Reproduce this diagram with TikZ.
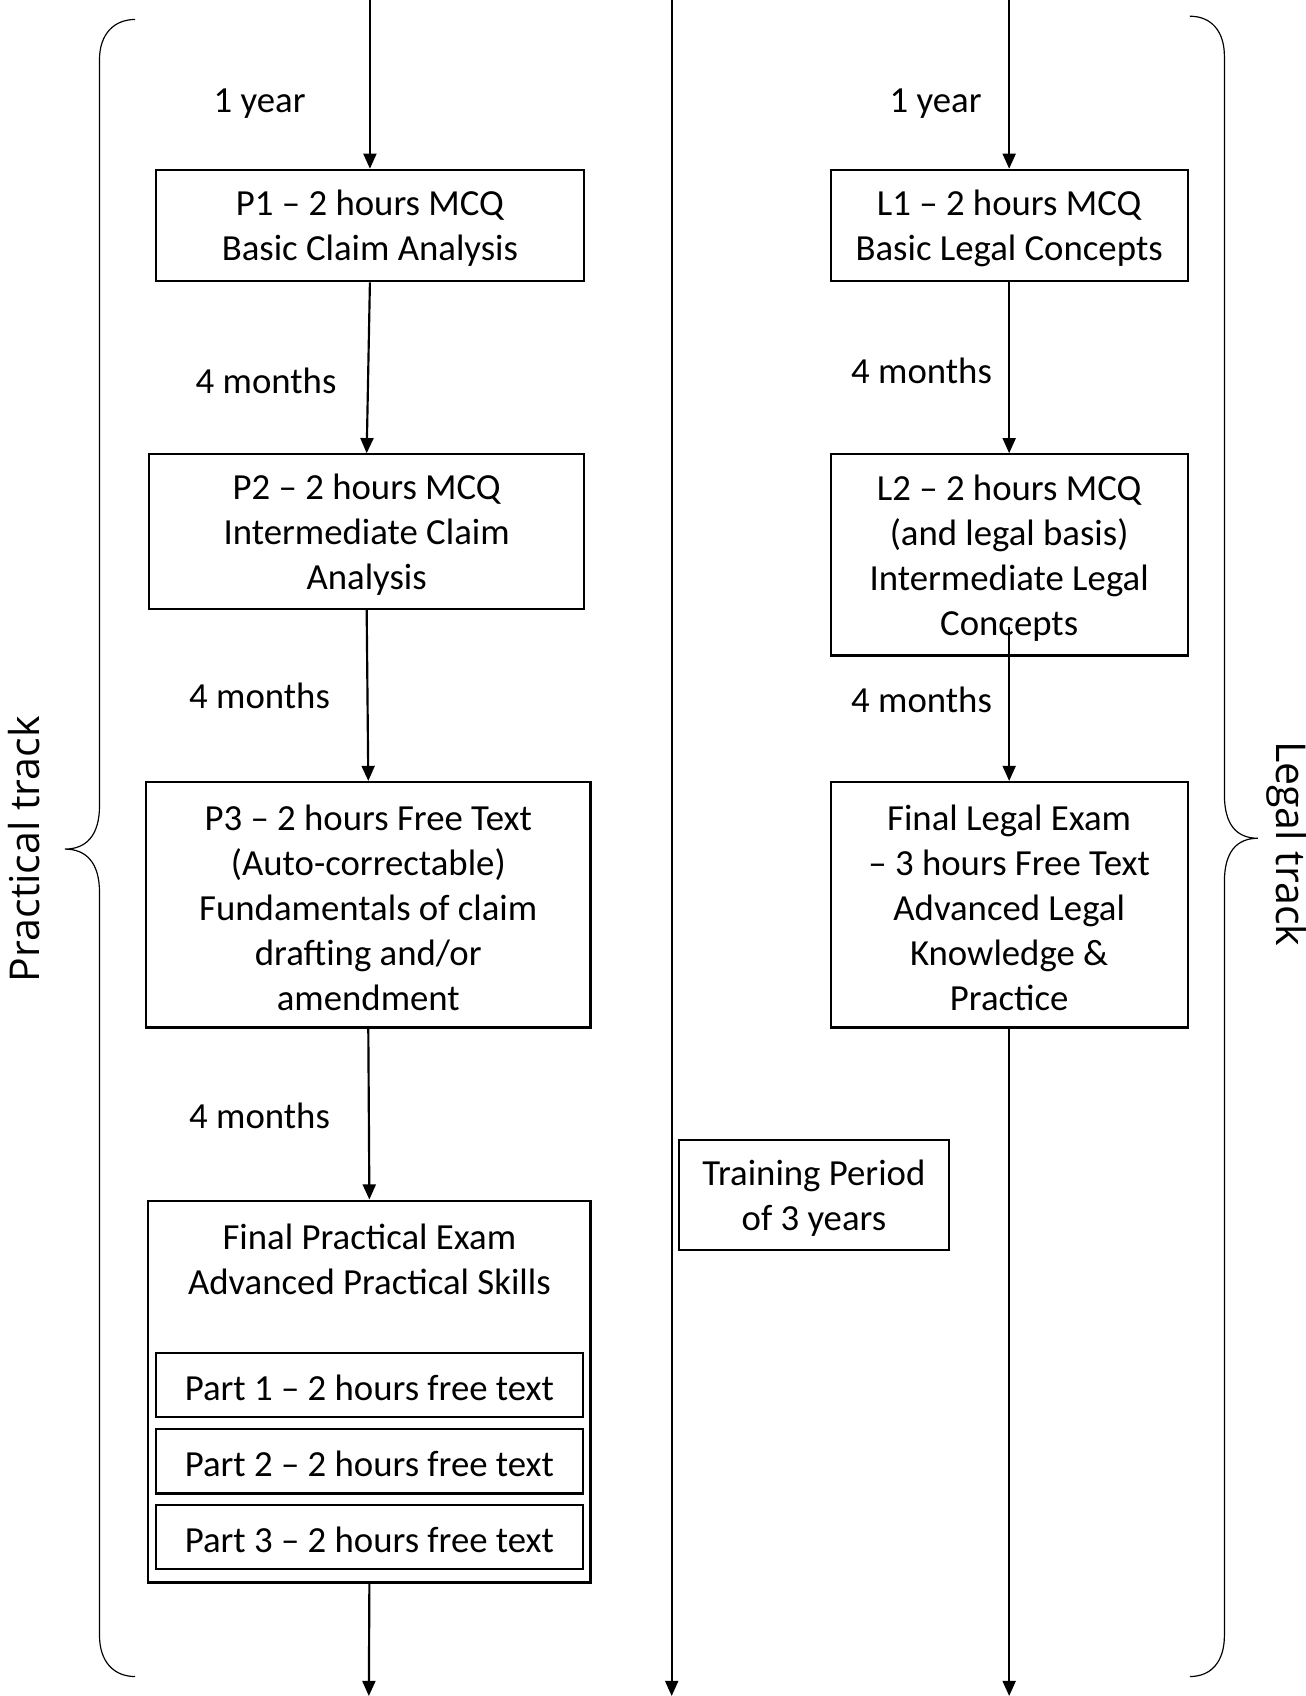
\documentclass[tikz,border=0pt]{standalone}
\usepackage{fontspec}
\setmainfont{Carlito}
\newfontfamily\trackfont{Open Sans}
\usetikzlibrary{arrows.meta}
\begin{document}
\begin{tikzpicture}[x=0.5pt,y=-0.5pt,
  txt/.style={font=\fontsize{17}{20.75}\selectfont,inner sep=0pt},
  box/.style={draw,line width=1pt,inner sep=0pt},
  boxtext/.style={label={[txt,align=center,yshift=-1.4pt]center:{#1}}},
  flow/.style={line width=1pt,-{Triangle[length=7pt,width=6pt]}},
  lbl/.style={txt},
  brace/.style={line width=0.55pt},
  track/.style={font=\trackfont\fontsize{19}{23}\selectfont,inner sep=0pt}]
\useasboundingbox (0,0) rectangle (1207,1568);

% ---------- practical track ----------
\node[box,minimum width=198pt,minimum height=51.5pt,
  boxtext={P1 – 2 hours MCQ\\Basic Claim Analysis}] (p1) at (342,208.5) {};
\node[box,minimum width=201pt,minimum height=71.5pt,
  boxtext={P2 – 2 hours MCQ\\Intermediate Claim\\Analysis}] (p2) at (339,491.5) {};
\node[box,minimum width=205.5pt,minimum height=113.5pt,
  boxtext={P3 – 2 hours Free Text\\(Auto-correctable)\\Fundamentals of claim\\drafting and/or\\amendment}]
  (p3) at (340.5,836.5) {};
\node[box,minimum width=204.5pt,minimum height=176.5pt] (fp) at (341.5,1286.5) {};
\node[lbl,align=center] (fptitle) at (341.5,1164)
  {Final Practical Exam\\Advanced Practical Skills};
\node[box,minimum width=197.5pt,minimum height=29.75pt,
  boxtext={Part 1 – 2 hours free text}] (part1) at (341.5,1280.5) {};
\node[box,minimum width=197.5pt,minimum height=29.75pt,
  boxtext={Part 2 – 2 hours free text}] (part2) at (341.5,1351) {};
\node[box,minimum width=197.5pt,minimum height=29.75pt,
  boxtext={Part 3 – 2 hours free text}] (part3) at (341.5,1421) {};

\coordinate (ptop) at (342,0);
\coordinate (pend) at (341,1568);
\draw[flow] (ptop) -- (p1.north);
\draw[flow] (p1.south) -- (p2.north);
\draw[flow] (p2.south) -- (p3.north);
\draw[flow] (p3.south) -- (fp.north);
\draw[flow] (fp.south) -- (pend);

\node[lbl] (py) at (240,96) {1 year};
\node[lbl] (pm1) at (246,352) {4 months};
\node[lbl] (pm2) at (240,643) {4 months};
\node[lbl] (pm3) at (240,1032) {4 months};

% ---------- legal track ----------
\node[box,minimum width=165pt,minimum height=51.5pt,
  boxtext={L1 – 2 hours MCQ\\Basic Legal Concepts}] (l1) at (933,208.5) {};
\node[box,minimum width=165pt,minimum height=93pt,
  boxtext={L2 – 2 hours MCQ\\(and legal basis)\\Intermediate Legal\\Concepts}] (l2) at (933,513) {};
\node[box,minimum width=165pt,minimum height=113.5pt,
  boxtext={Final Legal Exam\\– 3 hours Free Text\\Advanced Legal\\Knowledge \&\\Practice}]
  (fl) at (933,836.5) {};

\coordinate (ltop) at (933,0);
\coordinate (l2in) at (933,580);
\coordinate (lend) at (933,1568);
\draw[flow] (ltop) -- (l1.north);
\draw[flow] (l1.south) -- (l2.north);
\draw[flow] (l2in) -- (fl.north);
\draw[flow] (fl.south) -- (lend);

\node[lbl] (ly) at (865,96) {1 year};
\node[lbl] (lm1) at (852,343) {4 months};
\node[lbl] (lm2) at (852,647) {4 months};

% ---------- training period ----------
\coordinate (mtop) at (621,0);
\coordinate (mend) at (621,1568);
\draw[flow] (mtop) -- (mend);
\node[box,minimum width=124.5pt,minimum height=51pt,
  boxtext={Training Period\\of 3 years}] (train) at (752.5,1105) {};

% ---------- braces ----------
\draw[brace] (125,18) .. controls (105,18) and (92,32) .. (92,55)
  -- (92,745) .. controls (92,772) and (80,785) .. (60,785)
  .. controls (80,785) and (92,798) .. (92,825)
  -- (92,1512) .. controls (92,1536) and (105,1550) .. (125,1550);
\draw[brace] (1100,15) .. controls (1120,15) and (1132,29) .. (1132,52)
  -- (1132,735) .. controls (1132,762) and (1143,775) .. (1163,775)
  .. controls (1143,775) and (1132,788) .. (1132,815)
  -- (1132,1512) .. controls (1132,1536) and (1120,1550) .. (1100,1550);
\node[track,rotate=90] (ptrack) at (22,785) {Practical track};
\node[track,rotate=-90] (ltrack) at (1190,780) {Legal track};
\end{tikzpicture}
\end{document}
